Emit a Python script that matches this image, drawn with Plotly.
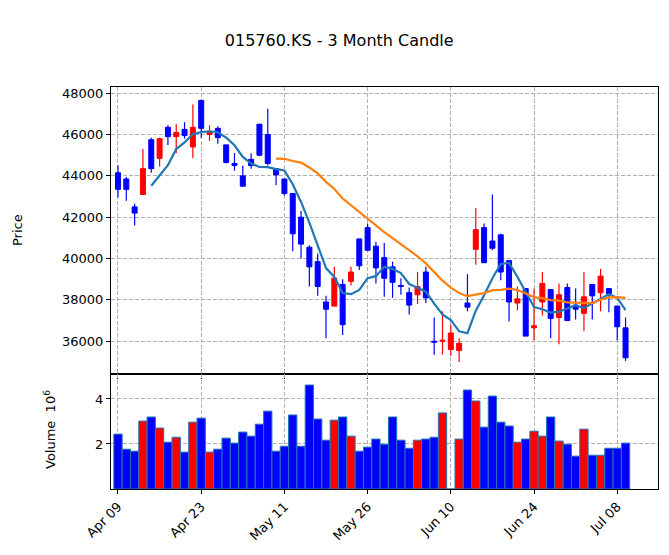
import pandas as pd
import plotly.graph_objects as go

# ---- data ----
opens = [44150, 43850, 42500, 43100, 45750, 44850, 46350, 45900, 46250, 45400,
         47650, 46000, 46300, 45500, 44600, 44000, 44800, 46500, 46000, 44350,
         43850, 43150, 42000, 40550, 39850, 37900, 37700, 38750, 38900, 40950,
         41500, 40600, 40050, 39600, 38700, 38350, 38250, 39350, 36000, 36000,
         35600, 35550, 37850, 40450, 41500, 40850, 41150, 39900, 37850, 38550,
         36650, 37900, 38500, 37150, 38600, 37750, 37350, 38750, 38350, 38550,
         37700, 36650]
highs = [44500, 43950, 42650, 45300, 45850, 45850, 46450, 46500, 46600, 47450,
         47700, 46450, 46400, 45500, 45100, 44500, 45100, 46500, 47250, 44350,
         43850, 43150, 42300, 40650, 40250, 38200, 39600, 39000, 39600, 40950,
         41700, 40800, 40750, 39850, 39050, 38600, 39350, 39600, 37150, 37450,
         36800, 36150, 39250, 42450, 41700, 43100, 41200, 39900, 38650, 38550,
         38550, 39350, 38500, 38800, 38800, 38550, 39350, 38750, 39500, 38550,
         37700, 37150]
lows = [42950, 42800, 41600, 43100, 44150, 44450, 45500, 45100, 45800, 44850,
        45850, 45700, 45550, 44600, 44250, 43500, 44350, 44950, 44500, 43550,
        43050, 40350, 40000, 38650, 38200, 36150, 37700, 36300, 38700, 39450,
        40400, 38800, 38150, 38100, 38250, 37300, 37800, 37850, 35350, 35350,
        35300, 35000, 37450, 39700, 39800, 40400, 38950, 36950, 37500, 36250,
        36050, 37250, 36150, 35850, 37000, 37050, 36500, 37050, 37450, 37400,
        36050, 35050]
closes = [43350, 43350, 42200, 44350, 44350, 45800, 45900, 46100, 45950, 46350,
          46300, 46100, 45850, 44650, 44500, 43500, 44500, 45000, 44600, 44050,
          43150, 41200, 40700, 39600, 38650, 37550, 39050, 36800, 39350, 39650,
          40400, 39550, 39050, 38850, 38650, 37750, 38650, 38100, 35950, 36050,
          36400, 35900, 37650, 41400, 39800, 40500, 39350, 37900, 38050, 36250,
          36750, 38800, 37100, 38250, 37000, 37550, 38150, 38200, 39150, 38300,
          36700, 35200]
volumes_m = [2.44, 1.77, 1.68, 3.02, 3.20, 2.71, 2.08, 2.30, 1.64, 2.97,
             3.15, 1.64, 1.77, 2.26, 2.04, 2.53, 2.35, 2.88, 3.46, 1.68,
             1.90, 3.29, 1.90, 4.62, 3.11, 2.17, 3.06, 3.20, 2.35, 1.68,
             1.86, 2.22, 1.99, 3.20, 2.17, 1.81, 2.17, 2.22, 2.30, 3.38,
             0.0, 2.22, 4.40, 3.91, 2.75, 4.13, 2.97, 2.80, 2.08, 2.22,
             2.57, 2.35, 3.20, 2.13, 1.99, 1.46, 2.66, 1.50, 1.50, 1.81,
             1.81, 2.04]
tick_pos = [0, 10, 20, 30, 40, 50, 60]
tick_labels = ["Apr 09", "Apr 23", "May 11", "May 26", "Jun 10", "Jun 24", "Jul 08"]
price_ticks = [36000, 38000, 40000, 42000, 44000, 46000, 48000]
vol_ticks = [2, 4]

UP, DOWN = "#ff0000", "#0000ff"

df = pd.DataFrame({"o": opens, "h": highs, "l": lows, "c": closes, "v": volumes_m})
df["x"] = range(len(df))
df["up"] = df["c"] >= df["o"]
df["ma5"] = df["c"].rolling(5).mean()
df["ma20"] = df["c"].rolling(20).mean()

fig = go.Figure()

for is_up, col in [(True, UP), (False, DOWN)]:
    sub = df[df["up"] == is_up]
    wx, wy = [], []
    for _, r in sub.iterrows():
        wx += [r["x"], r["x"], None]
        wy += [r["l"], r["h"], None]
    fig.add_trace(go.Scatter(x=wx, y=wy, mode="lines", line=dict(color=col, width=1.2),
                             xaxis="x", yaxis="y", hoverinfo="skip", showlegend=False))
for is_up, col in [(True, UP), (False, DOWN)]:
    sub = df[df["up"] == is_up]
    base = sub[["o", "c"]].min(axis=1)
    height = (sub["c"] - sub["o"]).abs()
    fig.add_trace(go.Bar(x=sub["x"], y=height, base=base, width=0.6,
                         marker=dict(color=col, line=dict(color=col, width=1)),
                         xaxis="x", yaxis="y", showlegend=False))

fig.add_trace(go.Scatter(x=df["x"], y=df["ma5"], mode="lines",
                         line=dict(color="#1f77b4", width=2.2), xaxis="x", yaxis="y",
                         showlegend=False))
fig.add_trace(go.Scatter(x=df["x"], y=df["ma20"], mode="lines",
                         line=dict(color="#ff7f0e", width=2.2), xaxis="x", yaxis="y",
                         showlegend=False))

fig.add_trace(go.Bar(x=df["x"], y=df["v"], width=1.0,
                     marker=dict(color=[UP if u else DOWN for u in df["up"]],
                                 line=dict(color="#1f77b4", width=1)),
                     xaxis="x2", yaxis="y2", showlegend=False))

xr = [-0.84, 64.9]
split = 0.286
GRID_DASH = "4px,2px"
common_x = dict(range=xr, tickvals=tick_pos, showgrid=True, gridcolor="#b0b0b0",
                griddash=GRID_DASH, gridwidth=1, ticks="outside", ticklen=4,
                tickcolor="black", showline=True, linecolor="black", linewidth=1,
                mirror=True, zeroline=False)
common_y = dict(showgrid=True, gridcolor="#b0b0b0", griddash=GRID_DASH, gridwidth=1,
                ticks="outside", ticklen=4, tickcolor="black", showline=True,
                linecolor="black", linewidth=1, mirror=True, zeroline=False)

fig.update_layout(
    width=669, height=555,
    margin=dict(l=111, r=11, t=87, b=66),
    paper_bgcolor="white", plot_bgcolor="white",
    font=dict(family="DejaVu Sans", size=13, color="black"),
    barmode="overlay",
    showlegend=False,
    title=dict(text="015760.KS - 3 Month Candle", x=0.507, xref="container",
               xanchor="center", y=1 - 40 / 555, yref="container", yanchor="middle",
               font=dict(size=16)),
    xaxis=dict(domain=[0, 1], anchor="y", showticklabels=False, **common_x),
    yaxis=dict(domain=[split, 1], anchor="x", range=[34415, 48300],
               tickvals=price_ticks, tickformat="d", **common_y),
    xaxis2=dict(domain=[0, 1], anchor="y2", matches="x", tickvals=tick_pos,
                ticktext=tick_labels, tickangle=-45,
                **{k: v for k, v in common_x.items() if k != "tickvals"}),
    yaxis2=dict(domain=[0, split], anchor="x2", range=[0, 5.11], tickvals=vol_ticks,
                **common_y),
    annotations=[
        dict(text="Price", xref="paper", yref="paper", x=(17 - 111) / 547,
             y=(489 - 230) / 402, textangle=-90, showarrow=False,
             xanchor="center", yanchor="middle", font=dict(size=13)),
        dict(text="Volume  10<sup>6</sup>", xref="paper", yref="paper",
             x=(50 - 111) / 547, y=(489 - 430) / 402, textangle=-90,
             showarrow=False, xanchor="center", yanchor="middle", font=dict(size=13)),
    ],
)

fig.write_html("out.html")
